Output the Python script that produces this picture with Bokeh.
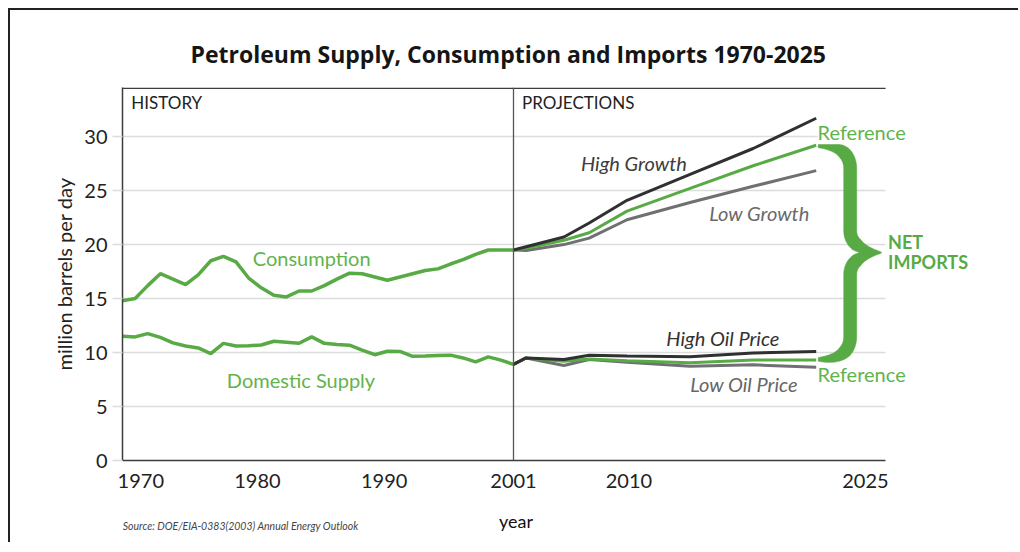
import numpy as np
from bokeh.plotting import figure
from bokeh.layouts import column
from bokeh.models import Range1d, FixedTicker, Span, Label, BoxAnnotation
from bokeh.embed import file_html
from bokeh.resources import INLINE

# ---------------- data ----------------
hist_years = list(range(1970, 2002))
consumption = [14.8, 15.0, 16.2, 17.3, 16.8, 16.3, 17.2, 18.5, 18.9, 18.4,
               16.9, 16.0, 15.3, 15.15, 15.7, 15.7, 16.2, 16.8, 17.35, 17.3,
               17.0, 16.7, 17.0, 17.3, 17.6, 17.75, 18.2, 18.6, 19.1, 19.5,
               19.5, 19.5]
domestic_supply = [11.5, 11.45, 11.75, 11.4, 10.9, 10.6, 10.43, 9.9, 10.85, 10.6,
                   10.62, 10.7, 11.05, 10.96, 10.86, 11.45, 10.85, 10.75, 10.68, 10.23,
                   9.8, 10.12, 10.1, 9.65, 9.68, 9.72, 9.76, 9.5, 9.13, 9.6,
                   9.3, 8.9]

proj_years = [2001, 2002, 2005, 2007, 2010, 2015, 2020, 2025]
high_growth = [19.5, 19.8, 20.7, 22.0, 24.1, 26.5, 28.9, 31.7]
reference_consumption = [19.5, 19.65, 20.4, 21.1, 23.1, 25.2, 27.3, 29.2]
low_growth = [19.5, 19.45, 20.0, 20.6, 22.3, 23.9, 25.4, 26.85]
high_oil_price = [8.9, 9.5, 9.35, 9.75, 9.68, 9.6, 9.95, 10.1]
reference_supply = [8.9, 9.5, 9.2, 9.41, 9.25, 9.05, 9.3, 9.32]
low_oil_price = [8.9, 9.5, 8.8, 9.35, 9.1, 8.72, 8.86, 8.64]

y_ticks = [0, 5, 10, 15, 20, 25, 30]
x_tick_labels = ["1970", "1980", "1990", "2001", "2010", "2025"]

# ---------------- layout / style ----------------
x_tick_positions = [1971.45, 1980.7, 1990.75, 2001.0, 2010.15, 2028.9]  # where labels sit in the picture
FONT = "Lato"
GREEN = "#58aa45"
GREEN_TXT = "#62b34c"
DARK = "#303030"
GRAY = "#707074"
GRID = "#dcdcdc"
AXIS = "#3c3c3c"

W = 1008
H = 490
BL, BT, BB = 112, 77, 40
PPX = 391.0 / 31.0          # pixels per year in the picture
X0, X_AXIS_END = 1970, 2030.5
Y0, Y1 = 0, 34.55
fw = W - BL
fh = H - BT - BB
X_END = X0 + fw / PPX
ppy = fh / (Y1 - Y0)

p = figure(width=W, height=H, output_backend="svg", toolbar_location=None,
           x_range=Range1d(X0, X_END), y_range=Range1d(Y0, Y1),
           min_border_left=BL, min_border_right=0, min_border_top=BT, min_border_bottom=BB,
           title="Petroleum Supply, Consumption and Imports 1970-2025")
p.outline_line_color = None
p.background_fill_color = "white"
p.border_fill_color = "white"

p.title.align = "left"
p.title.offset = 68
p.title.standoff = 36
p.title.text_font = "Open Sans"
p.title.text_font_size = "23px"
p.title.text_font_style = "bold"
p.title.text_color = "#151515"

p.xgrid.visible = False
p.ygrid.ticker = FixedTicker(ticks=y_ticks)
p.ygrid.grid_line_color = GRID
p.ygrid.grid_line_width = 1.5

p.yaxis.ticker = FixedTicker(ticks=y_ticks)
p.yaxis.axis_line_color = AXIS
p.yaxis.axis_line_width = 1.5
p.yaxis.major_tick_line_color = GRID
p.yaxis.major_tick_line_width = 1.5
p.yaxis.major_tick_out = 10
p.yaxis.major_tick_in = 0
p.yaxis.minor_tick_line_color = None
p.yaxis.major_label_text_font = FONT
p.yaxis.major_label_text_font_size = "20px"
p.yaxis.major_label_text_color = "#222222"
p.yaxis.major_label_standoff = 5
p.yaxis.axis_label = "million barrels per day"
p.yaxis.axis_label_text_font = FONT
p.yaxis.axis_label_text_font_size = "20px"
p.yaxis.axis_label_text_font_style = "normal"
p.yaxis.axis_label_text_color = "#222222"
p.yaxis.axis_label_standoff = 5

p.xaxis.bounds = (X0, X_AXIS_END)
p.xaxis.ticker = FixedTicker(ticks=x_tick_positions)
p.xaxis.major_label_overrides = {pos: lab for pos, lab in zip(x_tick_positions, x_tick_labels)}
p.xaxis.axis_line_color = AXIS
p.xaxis.axis_line_width = 1.5
p.xaxis.major_tick_line_color = None
p.xaxis.minor_tick_line_color = None
p.xaxis.major_label_text_font = FONT
p.xaxis.major_label_text_font_size = "20px"
p.xaxis.major_label_text_color = "#222222"
p.xaxis.major_label_standoff = 7

# hide the grid beyond the end of the x axis, draw the top border of the chart box
p.add_layout(BoxAnnotation(left=X_AXIS_END, fill_color="white", fill_alpha=1.0,
                           line_color=None))
p.add_layout(BoxAnnotation(left=X0, right=X_AXIS_END, top=Y1, bottom=Y1 - 1.5 / ppy,
                           fill_color=AXIS, fill_alpha=1.0, line_color=None))
p.add_layout(Span(location=2001, dimension="height", line_color="#555555", line_width=1.3))

# ---------------- lines ----------------
p.line(hist_years, consumption, line_color=GREEN, line_width=3.5)
p.line(hist_years, domestic_supply, line_color=GREEN, line_width=3.5)
p.line(proj_years, low_growth, line_color=GRAY, line_width=3)
p.line(proj_years, reference_consumption, line_color=GREEN, line_width=3)
p.line(proj_years, high_growth, line_color=DARK, line_width=3)
p.line(proj_years, low_oil_price, line_color=GRAY, line_width=3)
p.line(proj_years, reference_supply, line_color=GREEN, line_width=3)
p.line(proj_years, high_oil_price, line_color=DARK, line_width=3)


# ---------------- brace spanning the reference net imports ----------------
def bez(a, b, c, n=40):
    t = np.linspace(0, 1, n)[:, None]
    a, b, c = np.array(a, float), np.array(b, float), np.array(c, float)
    return (1 - t) ** 2 * a + 2 * (1 - t) * t * b + t ** 2 * c


Hb = (reference_consumption[-1] - reference_supply[-1]) * ppy
h = Hb / 2
stem, tip, hook, mid = 32.0, 63.0, 24.0, 22.0
upper = np.vstack([
    bez((0, 0.5), (stem, 0), (stem, hook)),
    np.column_stack([np.full(30, stem), np.linspace(hook, h - mid, 30)]),
    bez((stem, h - mid), (stem, h - 3), (tip, h)),
])
lower = upper[::-1].copy()
lower[:, 1] = Hb - lower[:, 1]
cl = np.vstack([upper, lower[1:]])
seg = np.hypot(np.diff(cl[:, 0]), np.diff(cl[:, 1]))
s = np.concatenate([[0], np.cumsum(seg)])
L = s[-1]
d_end = np.minimum(s, L - s)
d_tip = np.abs(s - L / 2)
w = 13.0 * (0.3 + 0.7 * np.clip(d_end / 28, 0, 1)) * (0.1 + 0.9 * np.clip(d_tip / 26, 0, 1))
tx = np.gradient(cl[:, 0])
ty = np.gradient(cl[:, 1])
nn = np.hypot(tx, ty) + 1e-9
nx, ny = -ty / nn, tx / nn
left = cl + np.column_stack([nx, ny]) * (w / 2)[:, None]
right = cl - np.column_stack([nx, ny]) * (w / 2)[:, None]
poly = np.vstack([left, right[::-1]])
bx = proj_years[-1] + (2.0 + poly[:, 0]) / PPX
by = reference_consumption[-1] - poly[:, 1] / ppy
p.patch(bx, by, fill_color=GREEN, line_color=GREEN, line_width=0.5)


# ---------------- labels ----------------
def lab(fig, x, y, text, color, size="20px", style="normal", align="center", bg=None, font=FONT):
    l = Label(x=x, y=y, text=text, text_color=color, text_font=font,
              text_font_size=size, text_font_style=style, text_align=align,
              text_baseline="middle")
    if bg:
        l.background_fill_color = bg
    fig.add_layout(l)


lab(p, 1970.7, 33.13, "HISTORY", "#222222", size="17px", align="left")
lab(p, 2001.67, 33.13, "PROJECTIONS", "#222222", size="17px", align="left")
lab(p, 1985.0, 18.75, "Consumption", GREEN_TXT)
lab(p, 1984.15, 7.43, "Domestic Supply", GREEN_TXT)
lab(p, 2010.55, 27.6, "High Growth", "#3d3d3d", style="italic")
lab(p, 2020.5, 22.93, "Low Growth", "#6a6a6a", style="italic")
lab(p, 2017.6, 11.32, "High Oil Price", "#333333", style="italic")
lab(p, 2019.28, 7.04, "Low Oil Price", "#666666", style="italic")
lab(p, 2025.11, 30.4, "Reference", GREEN_TXT, align="left", bg="white")
lab(p, 2025.11, 8.03, "Reference", GREEN_TXT, align="left")
lab(p, 2030.7, 20.21, "NET", GREEN, size="18px", style="bold", align="left")
lab(p, 2030.7, 18.4, "IMPORTS", GREEN, size="18px", style="bold", align="left")

# ---------------- strip below the chart: axis title and source ----------------
SH = 42
strip = figure(width=W, height=SH, output_backend="svg", toolbar_location=None,
               x_range=p.x_range, y_range=Range1d(SH, 0),
               min_border_left=BL, min_border_right=0, min_border_top=0, min_border_bottom=0)
strip.axis.visible = False
strip.grid.visible = False
strip.outline_line_color = None
strip.background_fill_color = "white"
strip.border_fill_color = "white"
lab(strip, 2001.2, 20.7, "year", "#111111", size="18px")
lab(strip, X0 + 0.02, 25.7, "Source: DOE/EIA-0383(2003) Annual Energy Outlook", "#444444",
    size="10.5px", style="italic", align="left")

page = column(p, strip, spacing=0, margin=(8, 0, 0, 8),
              styles={"border-left": "2px solid #222", "border-top": "2px solid #222"})

open("out.html", "w").write(file_html(page, INLINE))
